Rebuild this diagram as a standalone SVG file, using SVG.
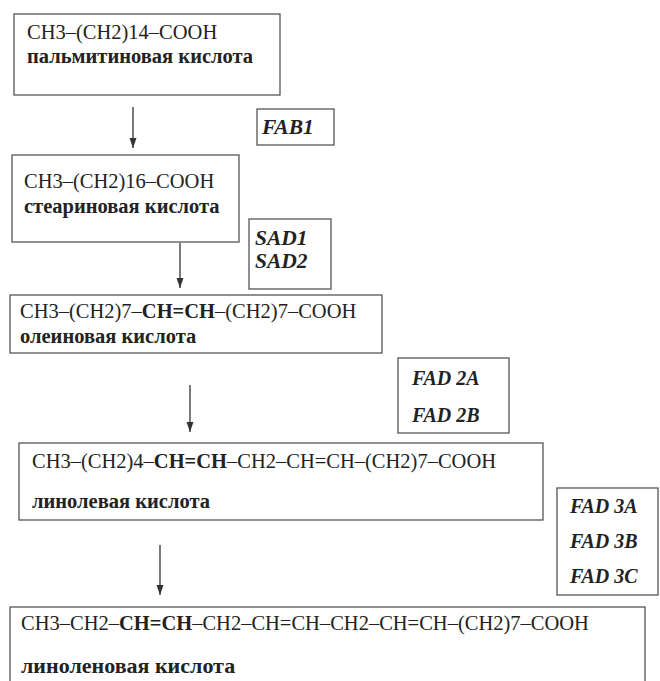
<svg xmlns="http://www.w3.org/2000/svg" width="660" height="681" viewBox="0 0 660 681">
<style>
.box{fill:#fff;stroke:#555;stroke-width:1.3}
.f{font-family:"Liberation Serif","Times New Roman",serif;font-size:20.5px;fill:#222}
.b{font-weight:bold}
.lab{font-family:"Liberation Serif","Times New Roman",serif;font-size:20.5px;font-weight:bold;fill:#222}
.enz{font-family:"Liberation Serif","Times New Roman",serif;font-size:20px;font-weight:bold;font-style:italic;fill:#222}
.big{font-size:21.5px}
.con{stroke:#333;stroke-width:1.3;fill:none;marker-end:url(#ah)}
</style>
<defs>
<marker id="ah" markerWidth="10" markerHeight="8" refX="10" refY="4" orient="auto" markerUnits="userSpaceOnUse" viewBox="0 0 10 8">
<path d="M0,0.5 L10,4 L0,7.5 Z" fill="#333"/>
</marker>
</defs>
<rect width="660" height="681" fill="#fff"/>
<g id="connectors">
<line class="con" x1="133" y1="107" x2="133" y2="148"/>
<line class="con" x1="180" y1="243" x2="180" y2="288"/>
<line class="con" x1="190" y1="385" x2="190" y2="432"/>
<line class="con" x1="160" y1="545" x2="160" y2="595"/>
</g>
<g id="palmitic">
<rect class="box" x="14" y="14" width="266" height="81"/>
<text class="f" x="27" y="39">CH3–(CH2)14–COOH</text>
<text class="lab" x="27" y="63">пальмитиновая кислота</text>
</g>
<g id="fab1">
<rect class="box" x="257" y="109" width="77" height="36"/>
<text class="enz big" x="262" y="134">FAB1</text>
</g>
<g id="stearic">
<rect class="box" x="12" y="155" width="227" height="87"/>
<text class="f" x="24" y="188">CH3–(CH2)16–COOH</text>
<text class="lab" x="24" y="213">стеариновая кислота</text>
</g>
<g id="sad">
<rect class="box" x="249" y="219" width="82" height="70"/>
<text class="enz big" x="255" y="245">SAD1</text>
<text class="enz big" x="255" y="268">SAD2</text>
</g>
<g id="oleic">
<rect class="box" x="10" y="295" width="372" height="58"/>
<text class="f" x="20" y="318">CH3–(CH2)7–<tspan class="b">CH=CH</tspan>–(CH2)7–COOH</text>
<text class="lab" x="20" y="343">олеиновая кислота</text>
</g>
<g id="fad2">
<rect class="box" x="398" y="358" width="111" height="75"/>
<text class="enz" x="412" y="385">FAD 2A</text>
<text class="enz" x="412" y="422">FAD 2B</text>
</g>
<g id="linoleic">
<rect class="box" x="19" y="443" width="524" height="77"/>
<text class="f" x="32" y="468">CH3–(CH2)4–<tspan class="b">CH=CH</tspan>–CH2–CH=CH–(CH2)7–COOH</text>
<text class="lab" x="32" y="508">линолевая кислота</text>
</g>
<g id="fad3">
<rect class="box" x="557" y="488" width="101" height="107"/>
<text class="enz" x="570" y="513">FAD 3A</text>
<text class="enz" x="570" y="548">FAD 3B</text>
<text class="enz" x="570" y="583">FAD 3C</text>
</g>
<g id="linolenic">
<rect class="box" x="10" y="607" width="635" height="90"/>
<text class="f" x="21" y="630">CH3–CH2–<tspan class="b">CH=CH</tspan>–CH2–CH=CH–CH2–CH=CH–(CH2)7–COOH</text>
<text class="lab" x="21" y="673" style="font-size:22px">линоленовая кислота</text>
</g>
</svg>
